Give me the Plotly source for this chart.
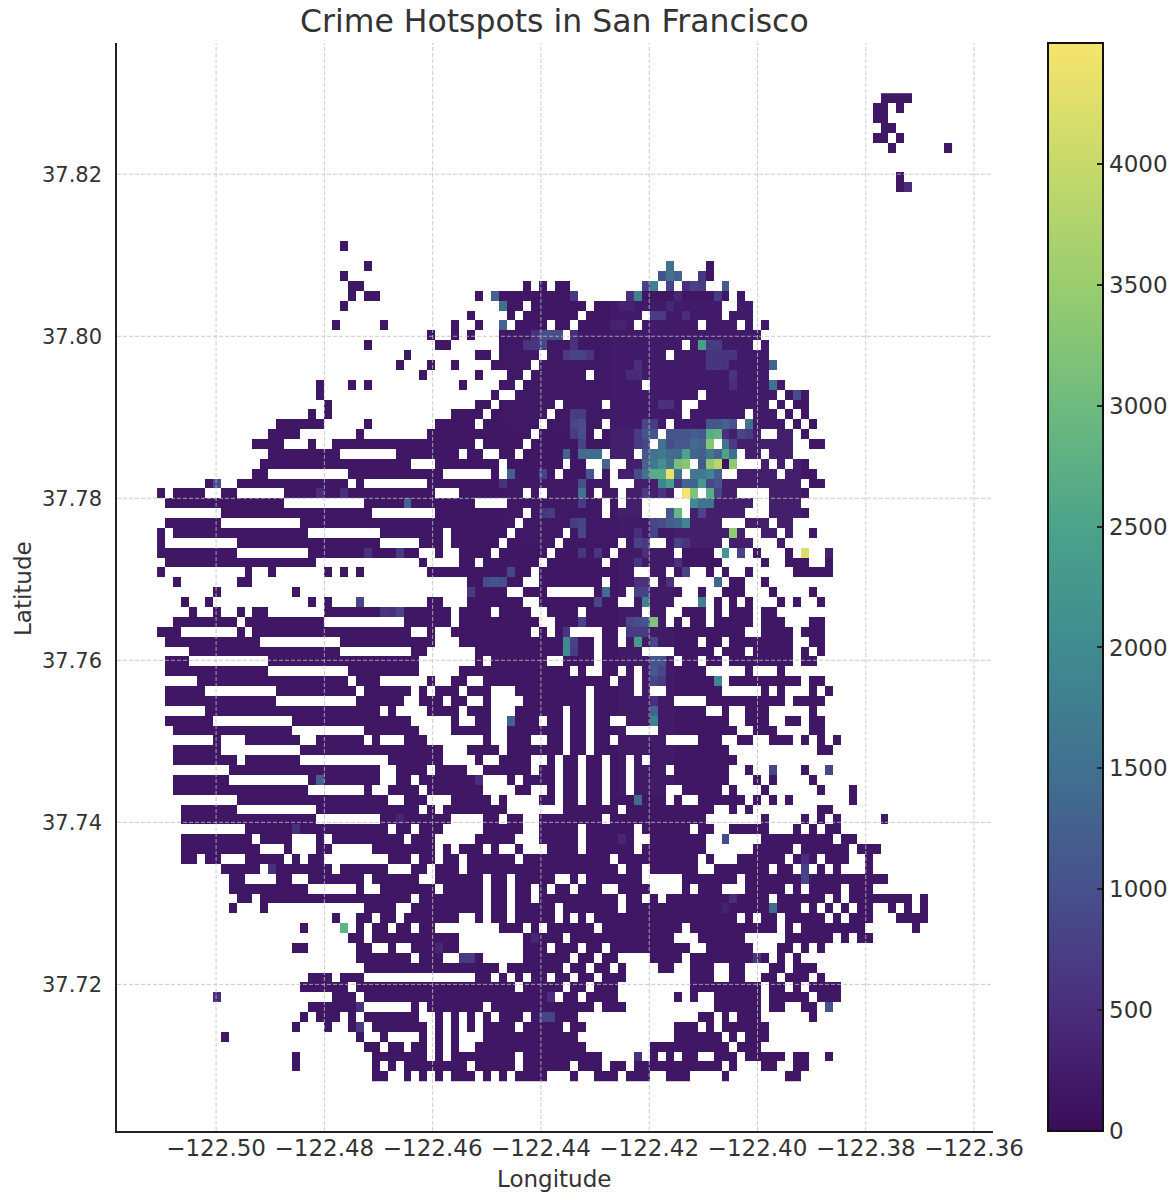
import numpy as np
import plotly.graph_objects as go

# Binned grid: 100 x 100 bins, row 0 is the northernmost
lon_min, lon_max = -122.5109, -122.3641
lat_min, lat_max = 37.70802, 37.83
n_bins = 100

lon_ticks = [-122.50, -122.48, -122.46, -122.44, -122.42, -122.40, -122.38, -122.36]
lon_labels = ["−122.50", "−122.48", "−122.46", "−122.44", "−122.42", "−122.40", "−122.38", "−122.36"]
lat_ticks = [37.72, 37.74, 37.76, 37.78, 37.80, 37.82]
lat_labels = ["37.72", "37.74", "37.76", "37.78", "37.80", "37.82"]
cbar_ticks = [0, 500, 1000, 1500, 2000, 2500, 3000, 3500, 4000]

# Non-empty bins per row, as "first-last" column runs
occupied = {
0:"91-94",1:"90-91 93",2:"90-91",3:"91-92",4:"90-91 93",5:"92 99",8:"93",9:"93-94",15:"23",
17:"26 64 69",18:"23 63-65 68-69",19:"24-25 46 48 50-51 61-62 64 66-68 71",
20:"24 26-27 40 42-52 59-71 73",
21:"23 43-45 47-53 55-70 73-74",
22:"39 44 46-52 54-60 62-70 72-74",
23:"22 28 37 40 43 45-48 50-51 53-59 61-67 69-72 74 76",
24:"34 37 39 43-50 52-75",
25:"26 35-36 43-65 67-74 76",
26:"31 40-41 43-47 49-63 65-76",
27:"30 34 37 42-46 48-77",
28:"33 40 44-45 47-53 55-76",
29:"20 24 26 38 43-44 46-60 62-78",
30:"20 42 45-67 69-77 79-81",
31:"21 40-41 43-49 51-55 57-65 68-76 78 80-81",
32:"19 21 37-40 42-48 50-65 67-73 75-77 79 81",
33:"15-20 26 35-39 41-47 49-55 57-63 65-72 74-78 80 82",
34:"14-17 25 34-46 48-54 56-62 64-75 78-79 81",
35:"12-15 19 22-39 41-45 47-61 63-69 71-79 82-83",
36:"14-22 30-37 39-40 43-44 46-55 57-59 61-72 74-75 77-79",
37:"13-31 35-42 44-50 52-53 56 59-66 68-72 76 78 80-81",
38:"12-13 24-35 42 44-49 51-54 56 58-65 67-70 73-77 79-82",
39:"6-7 10-23 25 34-56 60-80 82-83",
40:"0 2-5 8-9 16-34 38-45 47 49-54 56-57 59-64 66-67 69-72 77-81",
41:"1-15 26-39 44-55 57 59-60 67-74 77-80",
42:"8-26 35-45 47-55 57-60 64-65 67-73 77-81",
43:"1-7 18-44 46-70 74-76 78-79",
44:"0 2-18 28-35 37-43 45-50 52-73 76-77 79 82",
45:"0 10-27 33-35 37-42 44-49 51-57 59-61 64-70 72-74 78",
46:"0-9 19-32 35 38-41 43-48 50-56 58-64 66-69 71 73 75 79 81 84",
47:"1-19 33 38-39 41-47 49-55 57-70 76 79-81 84",
48:"0 11 14 21 23 25 34-46 48-59 62-63 65-66 69 71 74 80-84",
49:"2 10-11 39-45 48-55 57-61 63-64 70 72-73 76",
50:"7 17 39-43 46-48 55-58 60-65 68 71-73 77 82",
51:"3 6 19 21 25 34-35 39-45 48-57 60-64 68 70 72 74 78 80 83",
52:"4 7 10 12-13 21-36 38-41 43-46 49-52 54-60 62-63 66-68 70 72-74 76-77",
53:"2-9 11-20 31-36 38-47 50-63 65 67-68 70-74 76-78 82-83",
54:"0-2 10 12-31 34 37-46 48 50-51 56-57 59-73 76-79 81-83",
55:"1-12 23-34 38-54 56-57 59-67 69-70 72-79 82-83",
56:"4-22 32-33 40-54 56-60 65-69 71-73 75-79 81 83",
57:"1-3 14-32 40 42-48 51-54 56-64 66-67 69-70 72-79 81-82",
58:"1-13 24-32 38-51 53 56-57 59 61-68 74 78",
59:"5-23 25-27 34 37-38 41-56 58-59 61-70 72-80 82-83",
60:"1-5 15-24 26-31 33 35-37 39-41 45-53 55-59 61 64-70 76 78 82 84",
61:"1-14 25-30 33-35 37-38 41 46-53 55-64 69-78 80-83",
62:"6-27 29 34-37 39-41 45-50 52-53 55-68 71 74-76 82",
63:"1-6 17-31 37 40-41 44-47 49-50 52-53 55-56 59-71 74-76 79-80 82-83",
64:"2-16 26-32 37-41 44-50 52-53 55-58 63-72 75-77 82-83",
65:"7 11-17 20-25 27 31-33 41 44-46 49-50 52-53 55-56 58-63 68-70 73-74 77-79 81 83 85",
66:"2-7 18-35 39-42 44-50 52-53 55-71 83-84",
67:"2-9 11-17 29-35 40 43-46 49 51-52 54-55 57-58 60 62-72",
68:"9-27 30-33 35-38 41-46 48-49 51-52 54-55 57-58 60-63 65-71 74 77 81 84",
69:"2-8 19-27 30-31 33-40 44 46-49 51-52 54-55 57-58 60-71 75 77 82",
70:"2-18 26 29-32 34-40 45-46 49 51-52 54-55 57-58 60-63 66-70 72 76 83 87",
71:"10-28 31-33 37-41 43 48-49 51-52 54-55 57-63 65 68-73 75 77 79 87",
72:"3-9 20-32 34 36-43 51-57 59-69 72 74 83-84",
73:"3-19 28-36 41-42 44-45 48-55 57-68 76 81 83 85 91",
74:"11-28 30-31 33-35 41-45 48-52 54-59 61-66 68-69 72-76 80 82 84-85",
75:"3-11 13-16 20 22-30 32-34 40-44 48-52 54-59 62-68 71 76-84 86-87",
76:"3-12 16 20-21 27-34 36 38-40 42 45 49-52 54-59 61-68 75-79 81-86 88-90",
77:"3-4 6-7 11-15 17 19-20 29-31 33-34 36-37 39-44 46-56 58-67 69 73-78 80-82 84-86 89",
78:"8-12 14-21 23-28 32-33 35-37 39-57 59-60 62-67 70-76 78-79 81 83 85 89",
79:"9-10 15-16 19-25 27-32 35-40 42-43 45-49 52 54-60 66-72 74-91",
80:"9-18 25 28-34 36-40 42-43 45-46 48 50-51 53-55 58-61 66 68-70 74-78 80 82-85 87-89",
81:"10-11 13-31 33-40 42-43 45-46 48-57 59-60 62 64-76 78-83 85 87-94 96",
82:"9 13 26-29 32-40 42-43 45-49 51-57 59-80 82 84 86 88-89 92 94 96",
83:"22 25-26 28-29 31-37 40 42-43 45-49 51 53 55-72 74 76-77 79-83 85 87-89 93-96",
84:"18 23 25 27-28 30-31 33-34 43-45 47 49-54 56-65 67-77 79 81-88 95",
85:"24-25 27-37 46-50 52-64 68-73 79-84 86 88-89",
86:"17-18 25-26 29 32-37 46-48 50-52 54-55 57-66 69-74 78-79 81 83",
87:"25-31 33-35 38-40 46-51 53-54 56-57 62-65 67-76 78 80",
88:"26-42 44-50 52-53 55-56 58 63-64 67-69 72-73 77-78 80-82",
89:"19-21 23-25 40-41 43 45 47-48 50-51 53-54 56-58 67-69 72-73 76-77 79-81 83",
90:"18-23 25-44 46-50 52-53 55-57 67-75 77-78 80 82-85",
91:"7 22-24 26-49 51-52 54-57 65 67 70-75 77-81 83-85",
92:"19-25 32 34-40 42-54 56-58 70-75 77-78 81-82 84",
93:"18 20-22 24 26-32 35 37 39 41 43-45 47-52 68-69 71 73-75 82",
94:"17 21 24-25 27-33 35 37 39 41-44 46-50 52-53 65-67 69 71-76",
95:"8 25 28 33 35 37 41-52 65-70 72 74-76",
96:"26-27 29-30 32-33 35 37 40-53 62-71 73-75",
97:"17 27-33 35 37-44 46-55 60 62 64 66-67 70-72 74-78 80-81 84",
98:"17 27 29 31-38 40-44 46-51 53-55 57-58 60-70 72 76-77 80-81",
99:"27-28 31 33 35 37-39 41 43 45-48 52 55-57 59-61 64-66 71 79-80",
}

# Count read for ordinary bins, and for the broad busier districts (rows, cols, count)
base_count = 160
district_counts = [
    (21, 33, 57, 78, 230), (34, 45, 57, 80, 280), (24, 33, 44, 56, 190),
    (43, 70, 58, 64, 220), (39, 45, 44, 57, 190),
]

# Individually read bins: row -> {col: count}
hot_bins = {
9:{94:500},17:{64:1500},18:{63:1050,64:1550,65:1300,68:650},
19:{61:800,62:1800,64:800,66:500,67:800,68:700,71:1150},
20:{42:1300,52:650,59:550,60:1800,65:400,70:700},
21:{43:1500,58:350,59:350,64:400},22:{62:700,63:700,66:500},23:{43:1300,57:350,58:350},
24:{47:550,48:950,49:950,50:950,52:500},25:{46:600,47:600,48:850,52:550,68:2400,69:700,70:700},
26:{51:700,52:800,53:800,54:600,69:600,70:600,71:600,72:600},
27:{60:500,69:600,70:600,71:550,77:1300},28:{59:450,60:450,72:600},29:{77:1550,72:500},
30:{80:950},31:{63:550,64:550},
32:{52:700,53:700},33:{52:850,53:950,61:850,62:700,69:1050,70:1100,71:1300,72:1050,74:1550},
34:{52:700,53:950,60:700,61:1050,62:1050,64:1050,65:1050,66:1050,67:1200,68:1100,69:2700,70:2800,71:550,73:850,74:700},
35:{53:800,60:700,61:850,63:1550,64:950,65:1100,66:1100,67:1400,68:1300,69:3300,71:1550,72:700},
36:{51:1300,53:1400,54:1450,55:1450,61:1100,62:1550,63:1650,64:1400,65:1400,66:2500,67:1300,68:1200,69:1650,70:1300,71:2500,72:1450},
37:{56:1300,61:1300,62:1650,63:2100,64:1550,65:3100,66:3300,68:1100,69:3400,70:3850,71:120,72:3400},
38:{44:1200,48:800,54:1050,60:950,61:1550,62:2700,63:2700,64:4350,65:1550,67:1650,68:1650,69:1900,70:1200},
39:{7:950,43:550,53:950,63:1900,64:2400,65:600,66:1300,67:1300,68:2300,69:850,70:1050},
40:{20:500,23:500,53:1550,61:700,63:600,66:4490,67:3200,69:2700,70:800},
41:{31:1300,53:700,67:2000,68:1550,69:1550},42:{48:600,49:700,64:1100,65:2900,68:850},
43:{52:700,53:800,62:850,63:950,64:1200,65:1300,66:1900},
44:{53:850,60:500,62:800,72:3400},45:{60:800,61:700,65:800,66:600},
46:{26:550,30:700,53:600,55:600,61:500,71:2200,73:800,81:4200,84:300},47:{60:600,65:550},
48:{44:850,66:800},49:{41:950,42:1050,43:950,60:550,61:550,70:1300,64:550},
50:{39:700,56:1400,60:800,61:800},51:{25:850,55:850,61:1800,68:1800},
52:{28:600,29:550,30:850,53:500},53:{53:800,59:850,60:950,61:1050,62:3200},
54:{51:600,59:700,60:700,61:700},55:{51:1900,52:800,60:2300,62:850},
56:{51:2000,52:700},57:{62:1050,63:1050},58:{62:1100,63:850},59:{62:850,70:1900,63:700},
61:{62:500},62:{62:1300},63:{44:1300,62:1800},
68:{77:850,84:850},69:{20:1200,40:500},71:{60:1400},73:{30:400},
74:{17:550},75:{71:950,58:400},77:{81:500},78:{14:550,81:800},79:{81:850},
81:{72:500},82:{77:1400,71:350},84:{23:2800},85:{47:400},86:{35:400},
87:{38:700,39:700,75:600},91:{7:500,49:500},92:{25:550,84:1050},93:{48:800,49:800},
94:{25:700},97:{60:550},
}

colorscale = [
    [0.00, "#3a0c58"], [0.11, "#4a2d7c"], [0.22, "#47508c"], [0.33, "#41708f"],
    [0.44, "#3f8a90"], [0.55, "#4aa28a"], [0.66, "#6cb97f"], [0.77, "#97cc6f"],
    [0.88, "#c3d96a"], [1.00, "#f6e46c"],
]

z = [[None] * n_bins for _ in range(n_bins)]
for row, runs in occupied.items():
    for run in runs.split():
        first, _, last = run.partition("-")
        for col in range(int(first), int(last or first) + 1):
            z[row][col] = base_count
for r0, r1, c0, c1, value in district_counts:
    for row in range(r0, r1 + 1):
        for col in range(c0, c1 + 1):
            if z[row][col] is not None:
                z[row][col] = value
for row, cells in hot_bins.items():
    for col, value in cells.items():
        if z[row][col] is not None:
            z[row][col] = value

lon_edges = np.linspace(lon_min, lon_max, n_bins + 1)
lat_edges = np.linspace(lat_max, lat_min, n_bins + 1)
lon_centres = (lon_edges[:-1] + lon_edges[1:]) / 2
lat_centres = (lat_edges[:-1] + lat_edges[1:]) / 2

W, H = 1174, 1200
PL, PR, PT, PB = 117, 993, 43, 1131
TEXT = "#333333"
FONT = "DejaVu Sans"

fig = go.Figure(go.Heatmap(
    x=lon_centres, y=lat_centres, z=z, zmin=0, zmax=4500, colorscale=colorscale,
    hoverongaps=False, xgap=0, ygap=0,
    colorbar=dict(
        thickness=55, thicknessmode="pixels", len=(PB - PT) / H, lenmode="fraction",
        x=1048 / W, xanchor="left", y=1 - PB / H, yanchor="bottom", xpad=0, ypad=0,
        outlinecolor="#111111", outlinewidth=2, ticks="inside", ticklen=7, tickwidth=1.5,
        tickcolor="#222222", tickvals=cbar_ticks, ticktext=[str(t) for t in cbar_ticks],
        tickfont=dict(family=FONT, size=23, color=TEXT),
    ),
))

grid = dict(color="rgba(190,190,190,0.8)", width=1, dash="4px,2px")
shapes = [dict(type="line", xref="x", yref="paper", x0=t, x1=t, y0=1 - PB / H, y1=1 - PT / H, line=grid, layer="above") for t in lon_ticks]
shapes += [dict(type="line", xref="paper", yref="y", x0=PL / W, x1=PR / W, y0=t, y1=t, line=grid, layer="above") for t in lat_ticks]

fig.update_layout(
    width=W, height=H, autosize=False, margin=dict(l=0, r=0, t=0, b=0, autoexpand=False),
    paper_bgcolor="white", plot_bgcolor="white", shapes=shapes,
    font=dict(family=FONT, color=TEXT),
    xaxis=dict(domain=[PL / W, PR / W], range=[-122.5183, -122.3565], tickvals=lon_ticks, ticktext=lon_labels,
               showgrid=False, zeroline=False, showline=True, linecolor="#222222", linewidth=1.5,
               ticks="", ticklabelstandoff=-4, tickfont=dict(size=23, color=TEXT)),
    yaxis=dict(domain=[1 - PB / H, 1 - PT / H], range=[37.7019, 37.8362], tickvals=lat_ticks, ticktext=lat_labels,
               showgrid=False, zeroline=False, showline=True, linecolor="#222222", linewidth=1.5,
               ticks="", ticklabelstandoff=9, tickfont=dict(size=21, color=TEXT)),
    annotations=[
        dict(text="Crime Hotspots in San Francisco", xref="paper", yref="paper", x=554 / W, y=1 - 21 / H,
             xanchor="center", yanchor="middle", showarrow=False, font=dict(size=31.5, color=TEXT)),
        dict(text="Longitude", xref="paper", yref="paper", x=554 / W, y=1 - 1179 / H,
             xanchor="center", yanchor="middle", showarrow=False, font=dict(size=23, color=TEXT)),
        dict(text="Latitude", xref="paper", yref="paper", x=23 / W, y=1 - 589 / H, textangle=-90,
             xanchor="center", yanchor="middle", showarrow=False, font=dict(size=23, color=TEXT)),
    ],
)
fig.write_html("out.html", post_script="document.body.style.margin='0';", config={"displayModeBar": False})
